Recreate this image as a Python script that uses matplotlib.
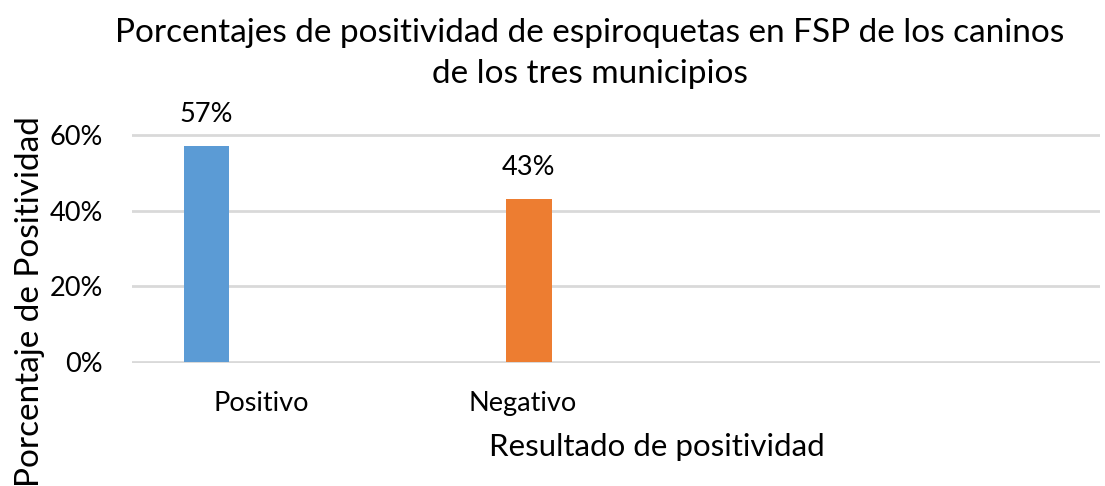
import matplotlib
matplotlib.use("Agg")
import matplotlib.pyplot as plt
import numpy as np

categories = ["Positivo", "Negativo"]
values = [0.57, 0.43]
bar_colors = ["#5B9BD5", "#ED7D31"]
y_ticks = [0.0, 0.2, 0.4, 0.6]

plt.rcParams['font.family'] = ['Lato', 'DejaVu Sans']


def main():
  fig = plt.figure(figsize=(11.05, 4.86), dpi=100)
  ax = fig.add_axes([0.1195, 0.2531, 0.876, 0.4712])

  # bars sit left of each category slot, as in the original sheet
  x = np.arange(len(categories)) + 0.23
  bars = ax.bar(x, values, width=0.141, color=bar_colors, zorder=3)
  for b, v in zip(bars, values):
    ax.text(b.get_x() + b.get_width() / 2, v + 0.05, f"{v:.0%}",
            ha="center", va="bottom", fontsize=19.5)

  ax.set_xlim(0, 3)
  ax.set_yticks(y_ticks)
  ax.set_yticklabels([f"{t:.0%}" for t in y_ticks], fontsize=19.5)
  ax.set_xticks([0.40, 1.21])
  ax.set_xticklabels(categories, fontsize=19.5)
  ax.tick_params(length=0)
  ax.tick_params(axis="y", pad=21)
  ax.tick_params(axis="x", pad=20)

  ax.yaxis.grid(True, color="#D9D9D9", linewidth=2, zorder=0)
  ax.set_axisbelow(True)
  for s in ax.spines.values():
    s.set_visible(False)
  ax.set_ylim(-0.002, 0.602)

  ax.set_xlabel("Resultado de positividad", fontsize=22.5)
  ax.xaxis.set_label_coords(0.542, -0.305)
  ax.set_ylabel("Porcentaje de Positividad", fontsize=24)
  ax.yaxis.set_label_coords(-0.09, 0.27)
  fig.suptitle("Porcentajes de positividad de espiroquetas en FSP de los caninos\nde los tres municipios",
               fontsize=24, x=0.534, y=0.962, linespacing=1.43)

  fig.savefig("out.png", dpi=100)


if __name__ == "__main__":
  main()
